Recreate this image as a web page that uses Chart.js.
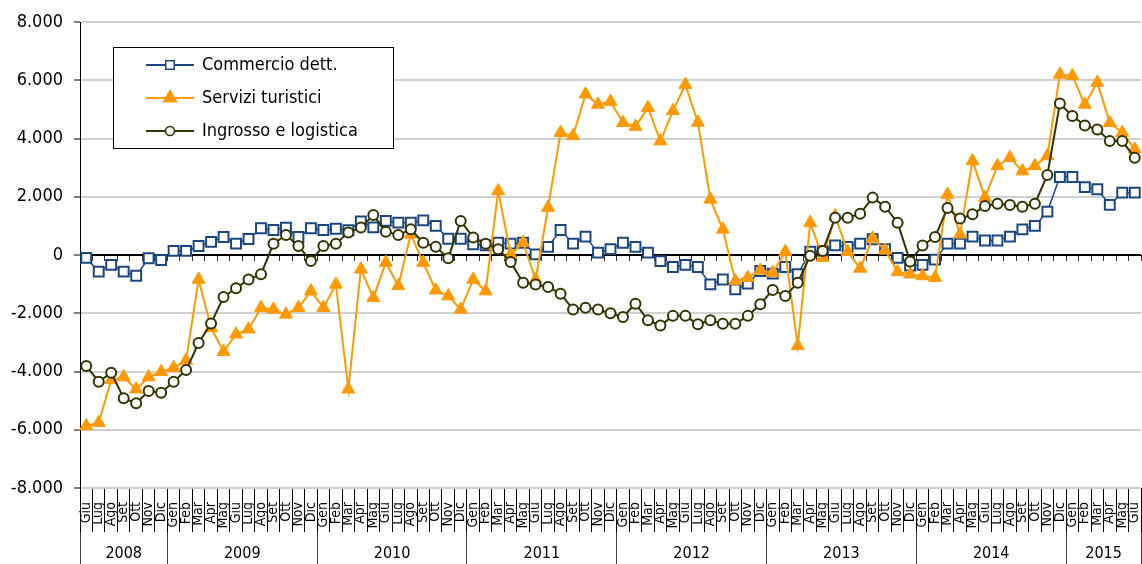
<!DOCTYPE html>
<html lang="it">
<head>
<meta charset="utf-8">
<title>Commercio, turismo, ingrosso</title>
<script src="https://cdn.jsdelivr.net/npm/chart.js@4.4.1/dist/chart.umd.min.js"></script>
<style>
    html, body { margin: 0; padding: 0; background: #fff; overflow: hidden; }
    #wrap { width: 1142px; height: 564px; overflow: hidden; }
</style>
</head>
<body>
<div id="wrap"><canvas id="grafico" width="1150" height="564"></canvas></div>
<script>
// mesi e anni dell'asse
const mesi = ['Gen', 'Feb', 'Mar', 'Apr', 'Mag', 'Giu', 'Lug', 'Ago', 'Set', 'Ott', 'Nov', 'Dic'];
const anni = ['2008', '2009', '2010', '2011', '2012', '2013', '2014', '2015'];
const mesiPerAnno = [7, 12, 12, 12, 12, 12, 12, 6];
const primoMese = 5; // Giu 2008

// serie
const commercio = [
    -100, -570, -340, -570, -710, -110, -170, 140, 140, 310,
    450, 620, 390, 550, 920, 860, 940, 620, 920, 860,
    900, 850, 1150, 950, 1170, 1110, 1110, 1190, 1000, 560,
    560, 370, 330, 420, 390, 420, 20, 280, 860, 390,
    630, 80, 200, 420, 280, 80, -210, -410, -340, -410,
    -1010, -840, -1180, -980, -550, -640, -410, -660, 110, 140,
    330, 280, 390, 540, 200, -100, -360, -340, -160, 390,
    390, 630, 500, 500, 630, 880, 1000, 1490, 2680, 2680,
    2330, 2260, 1720, 2140, 2140
];
const turistici = [
    -5870, -5760, -4290, -4190, -4610, -4190, -4010, -3870, -3620, -840,
    -2500, -3320, -2720, -2550, -1810, -1870, -2040, -1810, -1240, -1810,
    -1010, -4610, -490, -1470, -260, -1060, 710, -260, -1210, -1410,
    -1870, -840, -1240, 2200, 20, 420, -840, 1630, 4200, 4090,
    5520, 5170, 5270, 4540, 4410, 5060, 3910, 4950, 5850, 4550,
    1910, 880, -890, -780, -530, -610, 110, -3120, 1110, -90,
    1340, 110, -460, 570, 160, -580, -660, -720, -780, 2080,
    710, 3230, 1970, 3060, 3340, 2880, 3060, 3400, 6200, 6150,
    5170, 5920, 4540, 4200, 3630
];
const ingrosso = [
    -3810, -4350, -4040, -4920, -5090, -4670, -4730, -4350, -3950, -3020,
    -2350, -1440, -1140, -840, -660, 390, 690, 310, -210, 310,
    390, 770, 940, 1370, 800, 690, 880, 420, 280, -110,
    1170, 600, 390, 200, -240, -950, -1010, -1100, -1330, -1870,
    -1810, -1870, -2000, -2130, -1670, -2240, -2420, -2090, -2090, -2380,
    -2240, -2360, -2360, -2090, -1690, -1200, -1410, -950, -30, 140,
    1280, 1280, 1420, 1970, 1660, 1110, -220, 330, 620, 1610,
    1250, 1400, 1680, 1760, 1720, 1660, 1760, 2750, 5200, 4770,
    4450, 4310, 3910, 3910, 3340
];

const famiglia = "'DejaVu Sans Condensed', 'DejaVu Sans', sans-serif";
const BLU = '#1a4780';
const ARANCIO = '#ff9900';
const OLIVA = '#333300';

// etichette dei mesi
const etichette = [];
let m = primoMese;
mesiPerAnno.forEach(n => {
    for (let k = 0; k < n; k++) {
        etichette.push(mesi[m % 12]);
        m++;
    }
});

// tick dell'asse degli anni: separatori e nome al centro
const tickAnni = [];
let inizio = 0;
mesiPerAnno.forEach((n, i) => {
    tickAnni.push({ value: inizio - 0.5 });
    tickAnni.push({ value: inizio + (n - 1) / 2, anno: anni[i] });
    inizio += n;
});
tickAnni.push({ value: inizio - 0.5 });

function formato(v) {
    const s = Math.abs(v).toString().replace(/\B(?=(\d{3})+(?!\d))/g, '.');
    return (v < 0 ? '-' : '') + s;
}

// icona della legenda: linea con il simbolo in mezzo
function icona(colore, stile, raggio, riempimento) {
    const c = document.createElement('canvas');
    c.width = 48;
    c.height = 16;
    const g = c.getContext('2d');
    g.strokeStyle = colore;
    g.lineWidth = 2;
    g.beginPath();
    g.moveTo(0, 8);
    g.lineTo(48, 8);
    g.stroke();
    g.fillStyle = riempimento;
    g.lineWidth = 1.5;
    Chart.helpers.drawPoint(g, { pointStyle: stile, radius: raggio, borderWidth: 1.5, rotation: 0 }, 24, 8);
    return c;
}
const icone = [
    icona(BLU, 'rect', 6, '#fff'),
    icona(ARANCIO, 'triangle', 7.5, ARANCIO),
    icona(OLIVA, 'circle', 4.5, '#fff')
];

const riquadroLegenda = {
    id: 'riquadroLegenda',
    afterLayout(chart) {
        const lg = chart.legend;
        lg.left = chart.chartArea.left + 52;
        lg.top = chart.chartArea.top + 19;
    },
    afterDatasetsDraw(chart) {
        const { ctx, chartArea } = chart;
        const x = chartArea.left + 33, y = chartArea.top + 25;
        ctx.save();
        ctx.fillStyle = '#fff';
        ctx.fillRect(x, y, 280, 101);
        ctx.strokeStyle = '#000';
        ctx.lineWidth = 1;
        ctx.strokeRect(x + 0.5, y + 0.5, 280, 101);
        ctx.restore();
        chart.legend.draw();
    }
};

Chart.defaults.font.family = famiglia;
Chart.defaults.color = '#000';

const ctx = document.getElementById('grafico').getContext('2d');
new Chart(ctx, {
    type: 'line',
    data: {
        labels: etichette,
        datasets: [
            {
                label: 'Commercio dett.',
                data: commercio,
                xAxisID: 'x',
                yAxisID: 'y',
                order: 3,
                borderColor: BLU,
                borderWidth: 1.5,
                pointStyle: 'rect',
                pointRadius: 7,
                pointBorderWidth: 2,
                pointBorderColor: BLU,
                pointBackgroundColor: '#fff'
            },
            {
                label: 'Servizi turistici',
                data: turistici,
                xAxisID: 'x',
                yAxisID: 'y',
                order: 2,
                borderColor: ARANCIO,
                borderWidth: 2,
                pointStyle: 'triangle',
                pointRadius: 7.5,
                pointBorderWidth: 1,
                pointBorderColor: ARANCIO,
                pointBackgroundColor: ARANCIO
            },
            {
                label: 'Ingrosso e logistica',
                data: ingrosso,
                xAxisID: 'x',
                yAxisID: 'y',
                order: 1,
                borderColor: OLIVA,
                borderWidth: 2,
                pointStyle: 'circle',
                pointRadius: 5,
                pointBorderWidth: 2,
                pointBorderColor: OLIVA,
                pointBackgroundColor: '#fff'
            }
        ]
    },
    options: {
        responsive: false,
        animation: false,
        events: [],
        layout: { padding: { top: 22, right: 3, left: 0, bottom: 0 } },
        scales: {
            x: {
                type: 'category',
                axis: 'x',
                position: 'bottom',
                offset: true,
                border: { display: false },
                grid: { offset: true, drawOnChartArea: false, drawTicks: true, tickLength: 44, color: '#000', lineWidth: 1 },
                ticks: {
                    autoSkip: false,
                    minRotation: 90,
                    maxRotation: 90,
                    padding: -30,
                    font: { size: 14 },
                    color: '#000'
                },
                afterFit(scale) { scale.height = 44; }
            },
            anni: {
                type: 'linear',
                axis: 'x',
                position: 'bottom',
                min: -0.5,
                max: etichette.length - 0.5,
                border: { display: false },
                afterBuildTicks(scale) { scale.ticks = tickAnni.map(t => ({ ...t })); },
                grid: {
                    drawOnChartArea: false,
                    drawTicks: true,
                    tickLength: 32,
                    lineWidth: 1,
                    color: c => (c.tick && c.tick.anno) ? 'rgba(0,0,0,0)' : '#444',
                    tickColor: c => (c.tick && c.tick.anno) ? 'rgba(0,0,0,0)' : '#444'
                },
                ticks: {
                    autoSkip: false,
                    maxRotation: 0,
                    padding: -20,
                    font: { size: 16 },
                    color: '#000',
                    callback: (v, i, ticks) => ticks[i].anno || ''
                },
                afterFit(scale) { scale.height = 32; }
            },
            zero: {
                type: 'category',
                axis: 'x',
                position: { y: 0 },
                offset: true,
                ticks: { display: false },
                grid: { offset: true, drawOnChartArea: false, drawTicks: true, tickLength: 5, color: '#333', lineWidth: 1 },
                border: { display: true, color: '#000', width: 1 }
            },
            y: {
                type: 'linear',
                position: 'left',
                min: -8000,
                max: 8000,
                border: { color: '#000', width: 1 },
                grid: {
                    color: c => (c.tick && c.tick.value === 0) ? '#000' : '#d0d0d0',
                    lineWidth: 2,
                    tickColor: '#000',
                    tickWidth: 1,
                    tickLength: 6
                },
                ticks: {
                    stepSize: 2000,
                    padding: 11,
                    font: { size: 18 },
                    color: '#000',
                    callback: v => formato(v)
                },
                afterFit(scale) { scale.width = 80; }
            }
        },
        plugins: {
            tooltip: { enabled: false },
            legend: {
                display: true,
                position: 'chartArea',
                align: 'start',
                labels: {
                    usePointStyle: true,
                    pointStyleWidth: 46,
                    padding: 15,
                    color: '#000',
                    font: { size: 18 },
                    sort: (a, b) => a.datasetIndex - b.datasetIndex,
                    generateLabels: chart => Chart.defaults.plugins.legend.labels.generateLabels(chart).map(it => {
                        it.pointStyle = icone[it.datasetIndex];
                        return it;
                    })
                }
            }
        }
    },
    plugins: [riquadroLegenda]
});
</script>
</body>
</html>
